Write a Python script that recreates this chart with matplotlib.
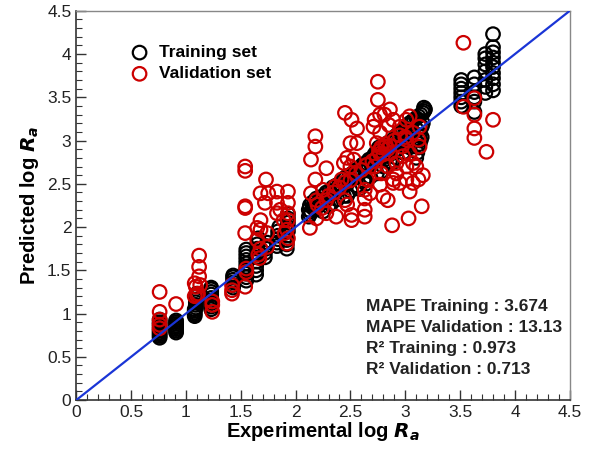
import matplotlib
matplotlib.use("Agg")
import matplotlib.pyplot as plt
from matplotlib.ticker import MultipleLocator

plt.rcParams['font.family'] = ['Liberation Sans', 'DejaVu Sans']

# ---- training set (experimental, predicted) ----
train_x = [
    0.76, 0.76, 0.76, 0.76, 0.76, 0.76, 0.76, 0.76, 0.76, 0.76,
    0.91, 0.91, 0.91, 0.91, 0.91, 0.91, 0.91, 0.91,
    1.08, 1.08, 1.08, 1.08, 1.08, 1.09, 1.09, 1.09, 1.09, 1.10, 1.10,
    1.23, 1.23, 1.23, 1.23, 1.23, 1.23, 1.23, 1.23, 1.23,
    1.43, 1.43, 1.43, 1.43, 1.43, 1.43,
    1.55, 1.55, 1.55, 1.55, 1.55, 1.55, 1.55, 1.55, 1.55, 1.55,
    1.64, 1.64, 1.64, 1.64, 1.65, 1.65, 1.65, 1.65, 1.66,
    1.72, 1.72, 1.73, 1.73, 1.74,
    1.83, 1.83, 1.84, 1.84, 1.84, 1.85,
    1.92, 1.92, 1.92, 1.92, 1.93, 1.93, 1.93, 1.93, 1.93,
    2.12, 2.12, 2.13, 2.13, 2.14, 2.15, 2.16, 2.17, 2.18, 2.19,
    2.21, 2.22, 2.24, 2.25, 2.27, 2.28, 2.30, 2.31, 2.33, 2.34,
    2.36, 2.37, 2.39, 2.40, 2.42, 2.43, 2.45, 2.46, 2.48, 2.49,
    2.51, 2.52, 2.54, 2.55, 2.57, 2.58, 2.60, 2.61, 2.63, 2.64,
    2.66, 2.67, 2.69, 2.70, 2.71, 2.72, 2.73, 2.74, 2.75, 2.76,
    2.77, 2.78, 2.79, 2.80, 2.81, 2.82, 2.83, 2.84, 2.85, 2.86,
    2.87, 2.88, 2.89, 2.90, 2.91, 2.92, 2.93, 2.94, 2.95, 2.96,
    2.97, 2.98, 2.99, 3.00, 3.01, 3.02, 3.03, 3.04, 3.05, 3.06,
    3.07, 3.08, 3.09, 3.10, 3.11, 3.12, 3.13, 3.14, 3.15, 3.16,
    3.10, 3.11, 3.12, 3.13, 3.14, 3.15, 3.16, 3.17, 3.18, 3.17,
    2.25, 2.32, 2.38, 2.44, 2.50, 2.56, 2.62, 2.68, 2.74, 2.80,
    2.86, 2.92, 2.98, 3.04, 2.30, 2.47, 2.58, 2.64, 2.78, 2.88,
    3.51, 3.51, 3.51, 3.51, 3.51, 3.51, 3.51,
    3.63, 3.63, 3.63, 3.63, 3.63, 3.63,
    3.73, 3.73, 3.73, 3.73, 3.73, 3.73, 3.73,
    3.80, 3.80, 3.80, 3.80, 3.80, 3.80, 3.80, 3.80, 3.80, 3.80,
]
train_y = [
    0.72, 0.74, 0.76, 0.78, 0.80, 0.82, 0.85, 0.88, 0.90, 0.93,
    0.78, 0.80, 0.82, 0.84, 0.86, 0.88, 0.90, 0.92,
    0.97, 0.99, 1.01, 1.03, 1.05, 1.07, 1.10, 1.13, 1.16, 1.20, 1.23,
    1.05, 1.08, 1.12, 1.15, 1.18, 1.22, 1.25, 1.28, 1.30,
    1.30, 1.33, 1.36, 1.39, 1.42, 1.44,
    1.38, 1.42, 1.46, 1.50, 1.54, 1.58, 1.62, 1.66, 1.70, 1.74,
    1.45, 1.50, 1.55, 1.60, 1.65, 1.70, 1.75, 1.80, 1.87,
    1.65, 1.70, 1.75, 1.78, 1.82,
    1.78, 1.82, 1.86, 1.90, 1.95, 2.00,
    1.75, 1.80, 1.85, 1.90, 1.95, 2.00, 2.05, 2.10, 2.15,
    2.12, 2.20, 2.15, 2.25, 2.18, 2.28, 2.22, 2.30, 2.20, 2.33,
    2.25, 2.32, 2.28, 2.36, 2.30, 2.40, 2.34, 2.42, 2.38, 2.46,
    2.40, 2.48, 2.44, 2.50, 2.46, 2.55, 2.48, 2.58, 2.52, 2.60,
    2.55, 2.62, 2.58, 2.66, 2.60, 2.68, 2.64, 2.72, 2.66, 2.74,
    2.70, 2.78, 2.72, 2.80, 2.76, 2.84, 2.70, 2.88, 2.78, 2.92,
    2.80, 2.86, 2.84, 2.94, 2.78, 2.90, 2.96, 2.82, 2.98, 2.88,
    2.92, 3.00, 2.86, 3.02, 2.94, 3.06, 2.90, 3.08, 2.98, 3.10,
    3.00, 3.12, 2.94, 3.14, 3.04, 3.18, 2.98, 3.20, 3.08, 3.22,
    3.10, 3.24, 3.02, 3.26, 3.12, 3.28, 3.06, 3.30, 3.16, 3.32,
    2.80, 2.86, 2.92, 2.96, 3.00, 3.04, 3.20, 3.34, 3.36, 3.38,
    2.18, 2.26, 2.32, 2.36, 2.42, 2.48, 2.54, 2.58, 2.62, 2.70,
    2.76, 2.80, 2.86, 2.92, 2.24, 2.36, 2.44, 2.50, 2.64, 2.74,
    3.40, 3.45, 3.50, 3.55, 3.60, 3.65, 3.70,
    3.33, 3.45, 3.50, 3.56, 3.65, 3.73,
    3.55, 3.62, 3.70, 3.80, 3.88, 3.95, 4.00,
    3.58, 3.65, 3.72, 3.78, 3.85, 3.90, 3.96, 4.02, 4.08, 4.23,
]

# ---- validation set (experimental, predicted) ----
valid_x = [
    0.76, 0.76, 0.76, 0.76, 0.76, 0.91,
    1.08, 1.09, 1.10, 1.08, 1.12, 1.12, 1.12, 1.13, 1.11,
    1.24, 1.24, 1.24, 1.42, 1.42, 1.42,
    1.54, 1.54, 1.54, 1.54, 1.54, 1.55, 1.55, 1.54,
    1.65, 1.65, 1.66, 1.67, 1.68, 1.68, 1.73, 1.72, 1.68, 1.75,
    1.68, 1.74, 1.74, 1.83, 1.83, 1.83, 1.86,
    1.93, 1.93, 1.93, 1.93, 1.92, 1.93, 1.92, 1.89, 1.90,
    2.13, 2.18, 2.18, 2.14, 2.18, 2.14, 2.19, 2.19,
    2.28, 2.25, 2.28, 2.24, 2.28, 2.37, 2.36, 2.42,
    2.45, 2.51, 2.56, 2.50, 2.56, 2.47, 2.53, 2.44, 2.50,
    2.45, 2.47, 2.51, 2.51,
    2.63, 2.63, 2.63, 2.63, 2.65, 2.68,
    2.75, 2.75, 2.72, 2.77, 2.86, 2.81, 2.89,
    2.71, 2.77, 2.85, 2.74, 2.82, 2.77, 2.86,
    2.72, 2.78, 2.84, 2.89, 2.92, 2.77, 2.80, 2.84, 2.88,
    2.89, 2.95, 3.01, 3.04, 3.07, 3.12, 3.16,
    2.95, 3.01, 3.04, 3.01, 2.97, 3.04, 3.07, 3.10, 3.01,
    3.03, 3.15, 3.13, 3.12, 3.13, 2.92, 2.98, 3.07,
    2.20, 2.30, 2.35, 2.40, 2.45, 2.50, 2.55, 2.60, 2.65, 2.70,
    2.74, 2.76, 2.78, 2.80, 2.82, 2.84, 2.86, 2.90, 2.95, 3.00,
    3.53, 3.53, 3.63, 3.63, 3.63, 3.63, 3.74, 3.80,
]
valid_y = [
    1.25, 1.02, 0.93, 0.87, 0.83, 1.11,
    1.35, 1.31, 1.21, 1.20, 1.67, 1.54, 1.43, 1.33, 1.23,
    1.14, 1.02, 1.10, 1.33, 1.27, 1.23,
    2.70, 2.65, 2.24, 2.22, 1.93, 1.52, 1.48, 1.31,
    1.99, 1.85, 1.68, 1.64, 1.75, 2.39, 2.55, 2.28, 2.08, 2.39,
    1.97, 1.77, 1.93, 2.41, 2.28, 2.16, 2.20,
    2.41, 2.28, 2.16, 2.08, 1.97, 1.87, 1.81, 2.08, 1.93,
    1.99, 3.05, 2.93, 2.78, 2.55, 2.39, 2.31, 2.10,
    2.68, 2.43, 2.31, 2.22, 2.16, 2.12, 2.47, 2.55,
    3.32, 3.24, 3.14, 2.97, 2.97, 2.80, 2.78, 2.74, 2.70,
    2.31, 2.26, 2.14, 2.08,
    2.43, 2.33, 2.20, 2.12, 2.55, 2.39,
    3.68, 3.47, 3.24, 3.30, 3.36, 3.30, 3.24,
    3.16, 3.09, 3.18, 2.97, 2.93, 2.85, 2.85,
    2.70, 2.62, 2.70, 2.55, 2.62, 2.49, 2.35, 2.31, 2.02,
    2.51, 2.51, 2.55, 2.41, 2.51, 2.55, 2.60,
    3.16, 3.24, 3.28, 3.01, 2.93, 2.85, 2.74, 2.70, 2.70,
    2.10, 2.24, 3.16, 3.01, 2.93, 2.74, 2.82, 3.09,
    2.26, 2.36, 2.40, 2.46, 2.52, 2.54, 2.62, 2.66, 2.72, 2.76,
    2.80, 2.88, 2.92, 2.84, 2.96, 2.90, 2.94, 3.00, 3.06, 3.04,
    4.13, 3.39, 3.49, 3.30, 3.14, 3.03, 2.87, 3.24,
]

stats_lines = [
    "MAPE Training : 3.674",
    "MAPE Validation : 13.13",
    "R\u00b2 Training : 0.973",
    "R\u00b2 Validation : 0.713",
]

fig = plt.figure(figsize=(5.96, 4.5), dpi=100)
ax = fig.add_axes([0.128, 0.111, 0.828, 0.865])

ms = 95
ax.scatter(train_x, train_y, s=ms, facecolors='none', edgecolors='black',
           linewidths=1.6, zorder=2, label='Training set')
ax.scatter(valid_x, valid_y, s=ms, facecolors='none', edgecolors='#cc0000',
           linewidths=1.6, zorder=3, label='Validation set')

ax.plot([0, 4.5], [0, 4.5], color='#1a35d6', lw=1.6, zorder=4)

ax.set_xlim(0, 4.5)
ax.set_ylim(0, 4.5)
ax.xaxis.set_major_locator(MultipleLocator(0.5))
ax.yaxis.set_major_locator(MultipleLocator(0.5))
ax.xaxis.set_minor_locator(MultipleLocator(0.1))
ax.yaxis.set_minor_locator(MultipleLocator(0.1))
ax.xaxis.set_major_formatter(plt.FuncFormatter(lambda v, p: f"{v:g}"))
ax.yaxis.set_major_formatter(plt.FuncFormatter(lambda v, p: f"{v:g}"))
ax.tick_params(which='both', direction='in', top=False, right=False,
               labelsize=12.5, colors='#333333', labelcolor='#222222')
ax.tick_params(which='major', length=7, width=1)
ax.tick_params(which='minor', length=4, width=0.8)
for side in ('left', 'bottom'):
    ax.spines[side].set_color('#333333')
    ax.spines[side].set_linewidth(1.2)
for side in ('top', 'right'):
    ax.spines[side].set_color('#888888')
    ax.spines[side].set_linewidth(1.0)

ax.set_xlabel(r"Experimental log $\bfit{R}_{\bfit{a}}$", fontsize=14.5,
              fontweight='bold', labelpad=0)
ax.set_ylabel(r"Predicted log $\bfit{R}_{\bfit{a}}$", fontsize=14.5,
              fontweight='bold', labelpad=4)

leg = ax.legend(loc='upper left', bbox_to_anchor=(0.086, 0.93), frameon=False,
                prop={'weight': 'bold', 'size': 12.5}, handletextpad=0.3,
                handlelength=1.6, borderaxespad=0, labelspacing=0.35,
                markerscale=1.0)

for i, line in enumerate(stats_lines):
    ax.text(0.588, 0.24 - i * 0.054, line, transform=ax.transAxes,
            fontsize=12.5, fontweight='bold', color='#222222', va='center')

fig.savefig("out.png", dpi=100)
